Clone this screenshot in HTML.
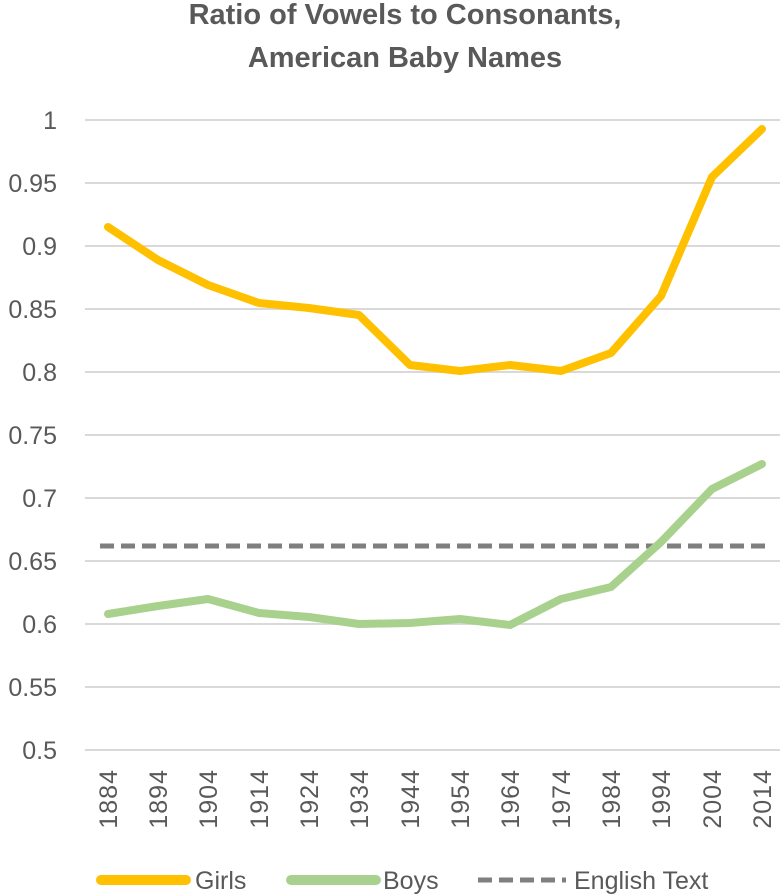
<!DOCTYPE html>
<html><head><meta charset="utf-8"><style>
html,body{margin:0;padding:0;background:#fff;}
svg{display:block;font-family:"Liberation Sans",sans-serif;}
</style></head><body>
<svg width="780" height="896" viewBox="0 0 780 896" xmlns="http://www.w3.org/2000/svg">
<text x="405" y="24" text-anchor="middle" font-size="29" font-weight="bold" fill="#595959">Ratio of Vowels to Consonants,</text>
<text x="405" y="67" text-anchor="middle" font-size="29" font-weight="bold" fill="#595959">American Baby Names</text>
<g stroke="#d9d9d9" stroke-width="2">
<line x1="85" x2="780" y1="120" y2="120"/><line x1="85" x2="780" y1="183" y2="183"/>
<line x1="85" x2="780" y1="246" y2="246"/><line x1="85" x2="780" y1="309" y2="309"/>
<line x1="85" x2="780" y1="372" y2="372"/><line x1="85" x2="780" y1="435" y2="435"/>
<line x1="85" x2="780" y1="498" y2="498"/><line x1="85" x2="780" y1="561" y2="561"/>
<line x1="85" x2="780" y1="624" y2="624"/><line x1="85" x2="780" y1="687" y2="687"/>
<line x1="85" x2="780" y1="750" y2="750"/>
</g>
<g font-size="25" fill="#595959" text-anchor="end">
<text x="57" y="129">1</text><text x="57" y="192">0.95</text><text x="57" y="255">0.9</text>
<text x="57" y="318">0.85</text><text x="57" y="381">0.8</text><text x="57" y="444">0.75</text>
<text x="57" y="507">0.7</text><text x="57" y="570">0.65</text><text x="57" y="633">0.6</text>
<text x="57" y="696">0.55</text><text x="57" y="759">0.5</text>
</g>
<g font-size="25" fill="#595959" text-anchor="end" letter-spacing="1">
<text transform="translate(117,769) rotate(-90)">1884</text>
<text transform="translate(167,769) rotate(-90)">1894</text>
<text transform="translate(217,769) rotate(-90)">1904</text>
<text transform="translate(268,769) rotate(-90)">1914</text>
<text transform="translate(318,769) rotate(-90)">1924</text>
<text transform="translate(368,769) rotate(-90)">1934</text>
<text transform="translate(419,769) rotate(-90)">1944</text>
<text transform="translate(469,769) rotate(-90)">1954</text>
<text transform="translate(519,769) rotate(-90)">1964</text>
<text transform="translate(570,769) rotate(-90)">1974</text>
<text transform="translate(620,769) rotate(-90)">1984</text>
<text transform="translate(670,769) rotate(-90)">1994</text>
<text transform="translate(721,769) rotate(-90)">2004</text>
<text transform="translate(771,769) rotate(-90)">2014</text>
</g>
<line x1="100" x2="768" y1="546" y2="546" stroke="#7f7f7f" stroke-width="5" stroke-dasharray="14,7"/>
<polyline fill="none" stroke="#ffc000" stroke-width="8" stroke-linejoin="round" stroke-linecap="round"
points="108,227 158,260 208,285 259,303 309,308 359,315 410,365 460,371 510,365 561,371 611,353 661,296 712,177 762,129"/>
<polyline fill="none" stroke="#a9d18e" stroke-width="8" stroke-linejoin="round" stroke-linecap="round"
points="108,614 158,606 208,599 259,613 309,617 359,624 410,623 460,619 510,625 561,599 611,587 661,542 712,489 762,464"/>
<line x1="101" x2="186" y1="880" y2="880" stroke="#ffc000" stroke-width="10" stroke-linecap="round"/>
<text x="195" y="889" font-size="25" fill="#595959">Girls</text>
<line x1="291" x2="376" y1="880" y2="880" stroke="#a9d18e" stroke-width="10" stroke-linecap="round"/>
<text x="383" y="889" font-size="25" fill="#595959">Boys</text>
<line x1="478" x2="566" y1="880" y2="880" stroke="#7f7f7f" stroke-width="5" stroke-dasharray="14,7"/>
<text x="574" y="889" font-size="25" fill="#595959">English Text</text>
</svg>
</body></html>
